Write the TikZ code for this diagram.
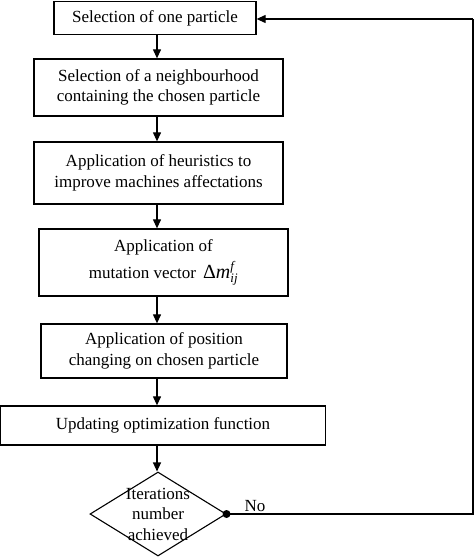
\documentclass[tikz,border=0pt]{standalone}
\usepackage{fontspec}
\setmainfont{Liberation Serif}
\usetikzlibrary{shapes.geometric,arrows.meta}
\begin{document}
\begin{tikzpicture}[x=1pt,y=-1pt,
  every node/.style={font=\fontsize{17}{20.5}\selectfont, align=center, inner sep=0pt},
  box/.style={draw, line width=1.3pt},
  dec/.style={draw, diamond, line width=1.1pt, minimum width=136pt, minimum height=84pt, inner sep=0pt},
  arr/.style={line width=1.2pt, -{Triangle[length=9pt,width=8pt]}},
  ret/.style={line width=1.2pt}]
\useasboundingbox (0,0) rectangle (474,557);
\coordinate (colx) at (157,0);
\node[box, minimum width=202pt, minimum height=33pt] (b1) at (155,18) {Selection of one particle};
\node[box, minimum width=249pt, minimum height=57pt] (b2) at (158.5,87.5) {Selection of a neighbourhood\\containing the chosen particle};
\node[box, minimum width=249pt, minimum height=62pt] (b3) at (158.5,173) {Application of heuristics to\\improve machines affectations};
\node[box, minimum width=249pt, minimum height=67pt] (b4) at (163.5,262.5) {Application of\\[5pt]mutation vector \,{\fontsize{20}{20}\selectfont Δ\textit{m}}$^{\textit{\fontsize{13}{13}\selectfont f}}_{\textit{\fontsize{13}{13}\selectfont ij}}$};
\node[box, minimum width=246pt, minimum height=54pt] (b5) at (164,351) {Application of position\\changing on chosen particle};
\node[box, minimum width=325pt, minimum height=39pt] (b6) at (163,425.5) {Updating optimization function};
\node[dec] (d) at (158,514) {};
\node (dt) at (158,514) {Iterations\\number\\achieved};
\node (no) at (255,506) {No};
\coordinate (c1) at (473,514);
\coordinate (c2) at (473,19);
\draw[arr] (b1.south -| colx) -- (b2.north -| colx);
\draw[arr] (b2.south -| colx) -- (b3.north -| colx);
\draw[arr] (b3.south -| colx) -- (b4.north -| colx);
\draw[arr] (b4.south -| colx) -- (b5.north -| colx);
\draw[arr] (b5.south -| colx) -- (b6.north -| colx);
\draw[arr] (b6.south -| colx) -- (d.north -| colx);
\fill (d.east) circle (4pt);
\draw[ret] (d.east) -- (c1) -- (c2);
\draw[arr] (c2) -- (b1.east |- c2);
\end{tikzpicture}
\end{document}
